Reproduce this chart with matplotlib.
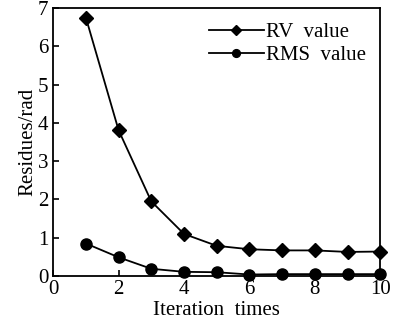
import numpy as np
import matplotlib.pyplot as plt

plt.rcParams['font.family'] = ['Liberation Serif', 'DejaVu Serif']

iterations = [1, 2, 3, 4, 5, 6, 7, 8, 9, 10]
rv_value = [6.75, 3.81, 1.95, 1.10, 0.79, 0.70, 0.67, 0.67, 0.63, 0.64]
rms_value = [0.85, 0.49, 0.19, 0.11, 0.10, 0.04, 0.05, 0.05, 0.05, 0.05]

fig = plt.figure(figsize=(3.94, 3.24), dpi=100)
ax = fig.add_axes([0.135, 0.148, 0.83, 0.827])

ax.plot(iterations, rv_value, color='k', marker='D', markersize=7, lw=1.3,
        label='RV  value', clip_on=False)
ax.plot(iterations, rms_value, color='k', marker='o', markersize=8, lw=1.3,
        label='RMS  value', clip_on=False)

ax.set_xlim(0, 10)
ax.set_ylim(0, 7)
ax.set_xticks(np.arange(0, 11, 2))
ax.set_yticks(np.arange(0, 8, 1))
ax.tick_params(direction='in', labelsize=15, length=4, width=1.2)
ax.tick_params(axis='x', pad=2.5)
ax.tick_params(axis='y', pad=3.5)
for s in ax.spines.values():
    s.set_linewidth(1.3)

ax.set_xlabel('Iteration  times', fontsize=15, labelpad=2)
ax.set_ylabel('Residues/rad', fontsize=15, labelpad=0)

ax.legend(loc='upper right', frameon=False, fontsize=15, handlelength=2.6,
          handletextpad=0.1, borderaxespad=0.3, labelspacing=0.15,
          markerscale=0.7)

fig.savefig('out.png', dpi=100)
